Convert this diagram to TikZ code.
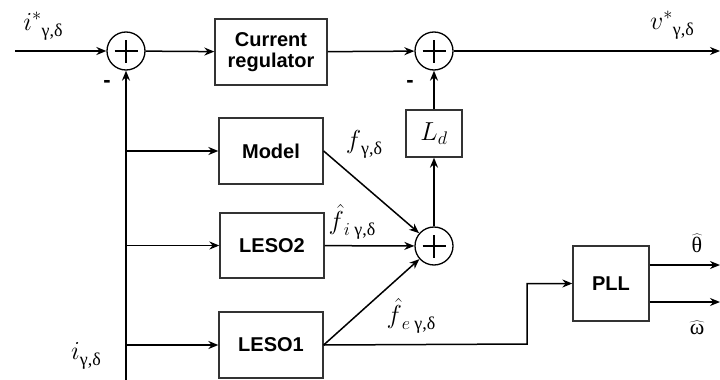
\RequirePackage{fix-cm}
\documentclass[tikz,border=0pt]{standalone}
\usepackage{fontspec}
\setmainfont{Liberation Sans}
\newfontfamily\gr{Liberation Serif}
\usetikzlibrary{arrows.meta}
\newcommand{\sg}[1]{\raisebox{-6pt}{\fontsize{18}{19}\selectfont\gr #1}}
\begin{document}
\begin{tikzpicture}[x=1pt,y=-1pt,
  every node/.style={font=\fontsize{20}{23}\selectfont},
  blk/.style={draw=black!80,line width=1.3pt,minimum width=104pt,minimum height=66pt,inner sep=0pt,align=center,font=\fontsize{20}{23}\selectfont\bfseries},
  sumnode/.style={draw,circle,line width=1.3pt,minimum size=38pt,inner sep=0pt,
    path picture={\draw[line width=1.1pt] ([xshift=-11.5pt]path picture bounding box.center) -- ([xshift=11.5pt]path picture bounding box.center);
                  \draw[line width=1.1pt] ([yshift=-11.5pt]path picture bounding box.center) -- ([yshift=11.5pt]path picture bounding box.center);}},
  conn/.style={line width=1.5pt,-{Stealth[length=10pt,width=8pt]}},
  lbl/.style={inner sep=0pt,font=\fontsize{26}{28}\selectfont}
]
\useasboundingbox (0,0) rectangle (720,380);
% sums
\node[sumnode] (s1) at (126,51) {};
\node[sumnode] (s2) at (434,51) {};
\node[sumnode] (s3) at (434,246) {};
% blocks
\node[blk,minimum width=112pt] (cr) at (271,52) {Current\\[-2pt]regulator};
\node[blk] (model) at (271,151) {Model};
\node[blk,minimum height=65pt] (leso2) at (272,245.5) {LESO2};
\node[blk] (leso1) at (271,345) {LESO1};
\node[blk,minimum width=56pt,minimum height=47pt,font=\fontsize{26}{28}\selectfont] (ld) at (434,133.5) {$L_d$};
\node[blk,minimum width=76pt,minimum height=75pt] (pll) at (611,283.5) {PLL};
% coordinates
\coordinate (in) at (15,51);
\coordinate (out) at (720,51);
\coordinate (fb) at (126,380);
\coordinate (k) at (527,344);
\coordinate (th) at (720,265);
\coordinate (om) at (720,302);
% connectors
\draw[conn] (in) -- (s1);
\draw[conn] (s1) -- (cr);
\draw[conn] (cr) -- (s2);
\draw[conn] (s2) -- (out);
\draw[conn] (fb) -- (s1);
\draw[conn] (fb |- model) -- (model);
\draw[conn] (fb |- leso2) -- (leso2);
\draw[conn] (fb |- leso1) -- (leso1);
\draw[conn] (model.east) -- (s3);
\draw[conn] (leso2) -- (s3);
\draw[conn] (leso1.east) -- (s3);
\draw[conn] (s3) -- (ld);
\draw[conn] (ld) -- (s2);
\draw[conn] (leso1.east) -- (k) |- (pll.west);
\draw[conn] (pll.east |- th) -- (th);
\draw[conn] (pll.east |- om) -- (om);
% labels
\node[lbl] (li) at (43,26) {$i^{*}$\sg{γ,δ}};
\node[lbl] (lv) at (672,25) {$v^{*}$\sg{γ,δ}};
\node[lbl] (lig) at (86,356) {$i$\sg{γ,δ}};
\node[lbl] (lf) at (364,144) {$f$\sg{γ,δ}};
\node[lbl] (lfi) at (352,222) {$\hat{f}$\raisebox{-6pt}{$\scriptstyle i$}\,\sg{γ,δ}};
\node[lbl] (lfe) at (411,316) {$\hat{f}$\raisebox{-6pt}{$\scriptstyle e$}\,\sg{γ,δ}};
\node[lbl,font=\fontsize{22}{24}\selectfont] (lth) at (697,243) {$\widehat{\hbox{\gr θ}}$};
\node[lbl,font=\fontsize{22}{24}\selectfont] (lom) at (697,328) {$\widehat{\hbox{\gr ω}}$};
\node[lbl,font=\fontsize{22}{24}\selectfont\bfseries] (m1) at (107,84) {-};
\node[lbl,font=\fontsize{22}{24}\selectfont\bfseries] (m2) at (410,84) {-};
\end{tikzpicture}
\end{document}
